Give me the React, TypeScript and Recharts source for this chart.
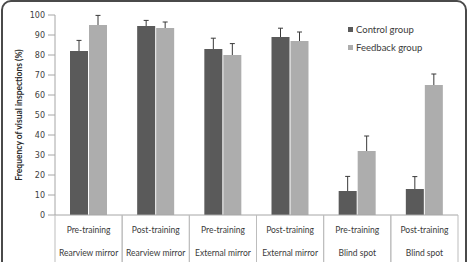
import { BarChart, Bar, XAxis, YAxis } from 'recharts';

const phases = ['Pre-training', 'Post-training', 'Pre-training', 'Post-training', 'Pre-training', 'Post-training'];
const targets = ['Rearview mirror', 'Rearview mirror', 'External mirror', 'External mirror', 'Blind spot', 'Blind spot'];
const control = [82, 94.5, 83, 89, 12, 13];
const feedback = [95, 93.5, 80, 87, 32, 65];
const controlErr = [5.3, 2.8, 5.4, 4.4, 7.3, 6.2];
const feedbackErr = [4.8, 3, 5.7, 4.5, 7.5, 5.5];
const yTicks = [0, 10, 20, 30, 40, 50, 60, 70, 80, 90, 100];
const seriesNames = ['Control group', 'Feedback group'];

const DARK = '#5a5a5a';
const LIGHT = '#adadad';
const LINE = '#a6a6a6';

const data = phases.map((p, i) => ({
  key: `${i}`,
  phase: p,
  target: targets[i],
  control: control[i],
  feedback: feedback[i],
  controlErr: controlErr[i],
  feedbackErr: feedbackErr[i],
}));

// bar with a one-sided (upward) error whisker
const barWithErr = (valKey: string, errKey: string) => (props: any) => {
  const { x, y, width, height, fill, payload } = props;
  const v = payload[valKey];
  const e = payload[errKey];
  const pxPerUnit = v ? height / v : 0;
  const cx = x + width / 2;
  const top = y - e * pxPerUnit;
  return (
    <g>
      <rect x={x} y={y} width={width} height={height} fill={fill} />
      <line x1={cx} y1={y} x2={cx} y2={top} stroke="#3a3a3a" strokeWidth={1} />
      <line x1={cx - 2.5} y1={top} x2={cx + 2.5} y2={top} stroke="#3a3a3a" strokeWidth={1} />
    </g>
  );
};

// two-row category table under the plot
const CategoryTick = (props: any) => {
  const { x, y, payload, index } = props;
  const row = data[index];
  const half = payload.offset || 33.5;
  return (
    <g>
      <line x1={x - half} y1={y} x2={x - half} y2={y + 60} stroke="#bdbdbd" />
      <line x1={x + half} y1={y} x2={x + half} y2={y + 60} stroke="#bdbdbd" />
      <text x={x} y={y + 18} textAnchor="middle" fontSize={8.5} fill="#3a3a3a" fontFamily="Lato, sans-serif">
        {row.phase}
      </text>
      <text x={x} y={y + 41} textAnchor="middle" fontSize={8.5} fill="#3a3a3a" fontFamily="Lato, sans-serif">
        {row.target}
      </text>
    </g>
  );
};

const LegendBox = () => (
  <div
    style={{
      position: 'absolute',
      left: 348,
      top: 21,
      fontFamily: 'Lato, sans-serif',
      fontSize: 9.5,
      color: '#3a3a3a',
      lineHeight: '17.6px',
    }}
  >
    {seriesNames.map((name, i) => (
      <div key={name} style={{ display: 'flex', alignItems: 'center' }}>
        <span style={{ width: 5, height: 5, background: i === 0 ? DARK : LIGHT, marginRight: 3, display: 'inline-block' }} />
        {name}
      </div>
    ))}
  </div>
);

export default function App() {
  return (
    <div style={{ position: 'absolute', left: 0, top: 0, width: 469, height: 262, overflow: 'hidden', background: '#fff' }}>
      <div
        style={{
          position: 'absolute',
          left: 1,
          top: 0,
          width: 462,
          height: 290,
          border: '2px solid #4a4a4a',
          borderRadius: 10,
        }}
      />
      <div style={{ position: 'absolute', left: 0, top: 0 }}>
        <BarChart
          width={469}
          height={262}
          data={data}
          margin={{ top: 15, right: 11, left: 0, bottom: 0 }}
          barSize={18}
          barGap={1}
        >
          <XAxis
            dataKey="key"
            axisLine={{ stroke: LINE }}
            tickLine={false}
            tickSize={0}
            tickMargin={0}
            height={47}
            interval={0}
            tick={<CategoryTick />}
          />
          <YAxis
            domain={[0, 100]}
            ticks={yTicks}
            width={55}
            axisLine={{ stroke: LINE }}
            tickLine={{ stroke: LINE }}
            tickSize={7}
            tickMargin={3}
            tick={{ fontSize: 8, fill: '#404040', fontFamily: 'DejaVu Sans' }}
            label={{
              content: ({ viewBox }: any) => (
                <text
                  x={viewBox.x + 19}
                  y={viewBox.y + viewBox.height / 2}
                  transform={`rotate(-90, ${viewBox.x + 19}, ${viewBox.y + viewBox.height / 2})`}
                  textAnchor="middle"
                  dominantBaseline="central"
                  fontSize={8.5}
                  fontWeight="bold"
                  fill="#2a2a2a"
                  fontFamily="Lato, sans-serif"
                >
                  Frequency of visual inspections (%)
                </text>
              ),
            }}
          />
          <Bar dataKey="control" fill={DARK} isAnimationActive={false} shape={barWithErr('control', 'controlErr')} />
          <Bar dataKey="feedback" fill={LIGHT} isAnimationActive={false} shape={barWithErr('feedback', 'feedbackErr')} />
        </BarChart>
      </div>
      <LegendBox />
    </div>
  );
}
